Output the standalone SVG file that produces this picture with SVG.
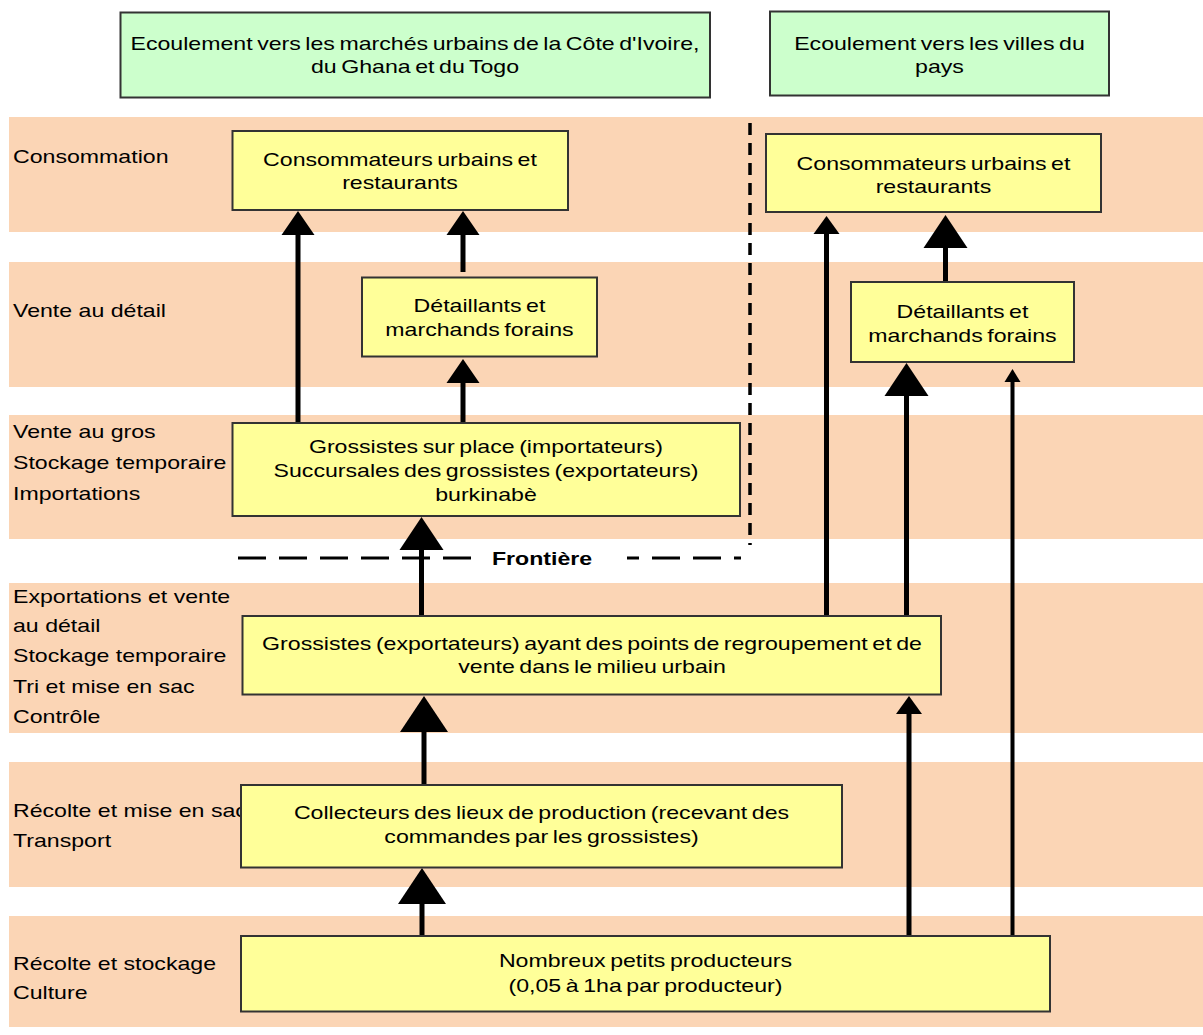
<svg xmlns="http://www.w3.org/2000/svg" width="1203" height="1035" viewBox="0 0 1203 1035">
<style>
.band{fill:#FBD5B5}
.green{fill:#CCFFCC;stroke:#333;stroke-width:2}
.yel{fill:#FFFF99;stroke:#333;stroke-width:2}
text{font-family:"Liberation Sans",Arial,sans-serif;font-size:18.5px;fill:#000}
.c{text-anchor:middle;word-spacing:-1.5px}
.conn{stroke:#000;stroke-width:5;fill:none}
.thin{stroke-width:4}
.dash{stroke:#000;stroke-width:3;fill:none;stroke-dasharray:28 13}
.vdash{stroke:#000;stroke-width:3.5;fill:none;stroke-dasharray:12 8}
</style>
<defs>
<marker id="mXL" markerUnits="userSpaceOnUse" markerWidth="36" markerHeight="48" refX="2" refY="24" orient="auto" overflow="visible"><path d="M0,0 L36,24 L0,48 z" fill="#000"/></marker>
<marker id="mL" markerUnits="userSpaceOnUse" markerWidth="33" markerHeight="44" refX="2" refY="22" orient="auto" overflow="visible"><path d="M0,0 L33,22 L0,44 z" fill="#000"/></marker>
<marker id="mM" markerUnits="userSpaceOnUse" markerWidth="24" markerHeight="33" refX="2" refY="16.5" orient="auto" overflow="visible"><path d="M0,0 L24,16.5 L0,33 z" fill="#000"/></marker>
<marker id="mS" markerUnits="userSpaceOnUse" markerWidth="18" markerHeight="26" refX="2" refY="13" orient="auto" overflow="visible"><path d="M0,0 L18,13 L0,26 z" fill="#000"/></marker>
<marker id="mXS" markerUnits="userSpaceOnUse" markerWidth="13" markerHeight="16" refX="2" refY="8" orient="auto" overflow="visible"><path d="M0,0 L13,8 L0,16 z" fill="#000"/></marker>
</defs>
<rect width="1203" height="1035" fill="#fff"/>
<g id="bands">
<rect class="band" x="9" y="117" width="1194" height="115"/>
<rect class="band" x="9" y="262" width="1194" height="125"/>
<rect class="band" x="9" y="415" width="1194" height="124"/>
<rect class="band" x="9" y="583" width="1194" height="150"/>
<rect class="band" x="9" y="762" width="1194" height="125"/>
<rect class="band" x="9" y="916" width="1194" height="111"/>
</g>
<g id="band-labels" transform="scale(1.25,1)">
<text x="10.4" y="163.3">Consommation</text>
<text x="10.4" y="316.7">Vente au détail</text>
<text x="10.4" y="438.3">Vente au gros</text>
<text x="10.4" y="469.3">Stockage temporaire</text>
<text x="10.4" y="500">Importations</text>
<text x="10.4" y="603.3">Exportations et vente</text>
<text x="10.4" y="631.7">au détail</text>
<text x="10.4" y="661.7">Stockage temporaire</text>
<text x="10.4" y="693.3">Tri et mise en sac</text>
<text x="10.4" y="723.3">Contrôle</text>
<text x="10.4" y="816.7">Récolte et mise en sac</text>
<text x="10.4" y="846.7">Transport</text>
<text x="10.4" y="970">Récolte et stockage</text>
<text x="10.4" y="999.3">Culture</text>
</g>
<g id="frontier">
<line class="vdash" x1="750" y1="123" x2="750" y2="545"/>
<line class="dash" x1="238" y1="558" x2="473" y2="558"/>
<line class="dash" x1="627" y1="558" x2="741" y2="558" style="stroke-dashoffset:16"/>
<text class="c" x="433.6" y="565" transform="scale(1.25,1)" font-weight="bold">Frontière</text>
</g>
<g id="connectors">
<line class="conn" x1="298" y1="423" x2="298" y2="233" marker-end="url(#mM)"/>
<line class="conn" x1="463" y1="272" x2="463" y2="233" marker-end="url(#mM)"/>
<line class="conn" x1="463" y1="423" x2="463" y2="381" marker-end="url(#mM)"/>
<line class="conn" x1="421.5" y1="616" x2="421.5" y2="548" marker-end="url(#mL)"/>
<line class="conn" x1="424" y1="785" x2="424" y2="730" marker-end="url(#mXL)"/>
<line class="conn" x1="422" y1="936" x2="422" y2="902" marker-end="url(#mXL)"/>
<line class="conn" x1="826.5" y1="616" x2="826.5" y2="232" marker-end="url(#mS)"/>
<line class="conn" x1="945.5" y1="282" x2="945.5" y2="246" marker-end="url(#mL)"/>
<line class="conn" x1="906.5" y1="616" x2="906.5" y2="394" marker-end="url(#mL)"/>
<line class="conn thin" x1="1012.5" y1="936" x2="1012.5" y2="380" marker-end="url(#mXS)"/>
<line class="conn" x1="909" y1="936" x2="909" y2="712" marker-end="url(#mS)"/>
</g>
<g id="n-export-ext">
<rect class="green" x="120.5" y="12.5" width="589.5" height="85"/>
<text class="c" transform="scale(1.25,1)" x="332" y="50">Ecoulement vers les marchés urbains de la Côte d'Ivoire,</text>
<text class="c" transform="scale(1.25,1)" x="332" y="73">du Ghana et du Togo</text>
</g>
<g id="n-export-int">
<rect class="green" x="770" y="11.5" width="339" height="84"/>
<text class="c" transform="scale(1.25,1)" x="751.6" y="50">Ecoulement vers les villes du</text>
<text class="c" transform="scale(1.25,1)" x="751.6" y="73">pays</text>
</g>
<g id="n-cons-left">
<rect class="yel" x="232.5" y="131" width="335.5" height="79"/>
<text class="c" transform="scale(1.25,1)" x="320" y="166">Consommateurs urbains et</text>
<text class="c" transform="scale(1.25,1)" x="320" y="189.3">restaurants</text>
</g>
<g id="n-cons-right">
<rect class="yel" x="766" y="134" width="335" height="78"/>
<text class="c" transform="scale(1.25,1)" x="746.8" y="170">Consommateurs urbains et</text>
<text class="c" transform="scale(1.25,1)" x="746.8" y="192.7">restaurants</text>
</g>
<g id="n-det-left">
<rect class="yel" x="362" y="277.5" width="235" height="79"/>
<text class="c" transform="scale(1.25,1)" x="383.6" y="311.7">Détaillants et</text>
<text class="c" transform="scale(1.25,1)" x="383.6" y="336">marchands forains</text>
</g>
<g id="n-det-right">
<rect class="yel" x="851" y="282" width="223" height="80"/>
<text class="c" transform="scale(1.25,1)" x="770" y="318.3">Détaillants et</text>
<text class="c" transform="scale(1.25,1)" x="770" y="341.7">marchands forains</text>
</g>
<g id="n-gross-place">
<rect class="yel" x="232.5" y="423" width="507.5" height="93"/>
<text class="c" transform="scale(1.25,1)" x="388.8" y="453.3">Grossistes sur place (importateurs)</text>
<text class="c" transform="scale(1.25,1)" x="388.8" y="477.3">Succursales des grossistes (exportateurs)</text>
<text class="c" transform="scale(1.25,1)" x="388.8" y="500.7">burkinabè</text>
</g>
<g id="n-gross-export">
<rect class="yel" x="242.5" y="616" width="698.5" height="78.5"/>
<text class="c" transform="scale(1.25,1)" x="473.6" y="650">Grossistes (exportateurs) ayant des points de regroupement et de</text>
<text class="c" transform="scale(1.25,1)" x="473.6" y="673.3">vente dans le milieu urbain</text>
</g>
<g id="n-collect">
<rect class="yel" x="241" y="785" width="601" height="82.5"/>
<text class="c" transform="scale(1.25,1)" x="433.2" y="819.3">Collecteurs des lieux de production (recevant des</text>
<text class="c" transform="scale(1.25,1)" x="433.2" y="842.7">commandes par les grossistes)</text>
</g>
<g id="n-prod">
<rect class="yel" x="241" y="936" width="809" height="75.5"/>
<text class="c" transform="scale(1.25,1)" x="516.4" y="967.3">Nombreux petits producteurs</text>
<text class="c" transform="scale(1.25,1)" x="516.4" y="991.7">(0,05 à 1ha par producteur)</text>
</g>
</svg>
